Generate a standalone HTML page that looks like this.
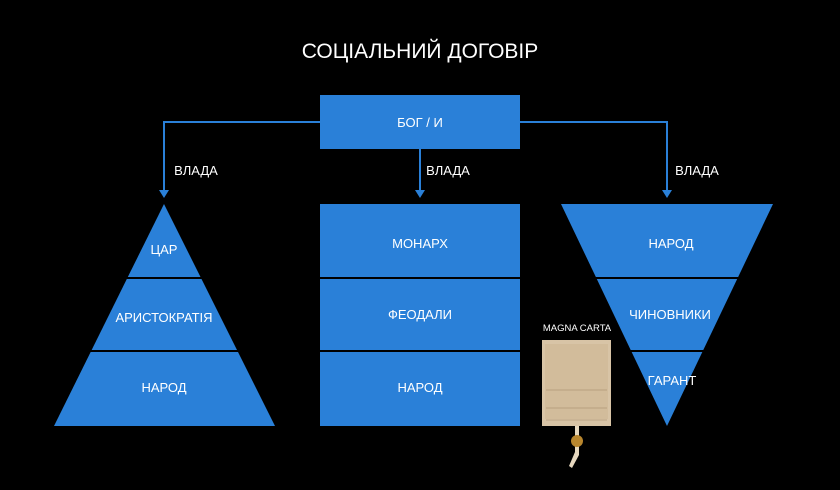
<!DOCTYPE html>
<html><head><meta charset="utf-8"><style>
html,body{margin:0;padding:0;background:#000;}
svg{display:block;font-family:"Liberation Sans",sans-serif;}
</style></head><body>
<svg width="840" height="490" viewBox="0 0 840 490" xmlns="http://www.w3.org/2000/svg">
<rect width="840" height="490" fill="#000"/>
<text x="420" y="58" fill="#fff" font-size="21" text-anchor="middle">СОЦІАЛЬНИЙ ДОГОВІР</text>
<g stroke="#2a80d8" stroke-width="2" fill="none">
<polyline points="320,122 164,122 164,192"/>
<line x1="420" y1="149" x2="420" y2="192"/>
<polyline points="520,122 667,122 667,192"/>
</g>
<g fill="#2a80d8">
<polygon points="159,190 169,190 164,198"/>
<polygon points="415,190 425,190 420,198"/>
<polygon points="662,190 672,190 667,198"/>
<rect x="320" y="95" width="200" height="54"/>
<polygon points="164,204 275,426 54,426"/>
<rect x="320" y="204" width="200" height="222"/>
<polygon points="561,204 773,204 667,426"/>
</g>
<g stroke="#000" stroke-width="2">
<line x1="40" y1="278" x2="290" y2="278"/>
<line x1="40" y1="351" x2="290" y2="351"/>
<line x1="310" y1="278" x2="530" y2="278"/>
<line x1="310" y1="351" x2="530" y2="351"/>
<line x1="550" y1="278" x2="790" y2="278"/>
<line x1="550" y1="351" x2="790" y2="351"/>
</g>
<g fill="#fff" font-size="13" text-anchor="middle">
<text x="420" y="127">БОГ /  И</text>
<text x="196" y="175">ВЛАДА</text>
<text x="448" y="175">ВЛАДА</text>
<text x="697" y="175">ВЛАДА</text>
<text x="164" y="254">ЦАР</text>
<text x="164" y="322">АРИСТОКРАТІЯ</text>
<text x="164" y="392">НАРОД</text>
<text x="420" y="248">МОНАРХ</text>
<text x="420" y="319">ФЕОДАЛИ</text>
<text x="420" y="392">НАРОД</text>
<text x="671" y="248">НАРОД</text>
<text x="670" y="319">ЧИНОВНИКИ</text>
<text x="672" y="385">ГАРАНТ</text>
<text x="577" y="331" font-size="9.5">MAGNA CARTA</text>
</g>
<rect x="542" y="340" width="69" height="86" fill="#d8c4a6"/>
<rect x="545" y="344" width="63" height="75" fill="#cfb795" opacity="0.6"/>
<g stroke="#a8906e" stroke-width="1" opacity="0.6">
<line x1="546" y1="390" x2="607" y2="390"/>
<line x1="546" y1="408" x2="607" y2="408"/>
<line x1="546" y1="420" x2="607" y2="420"/>
</g>
<path d="M575 426 L579 426 L579 455 L572 468 L569 466 L575 452 Z" fill="#e6d8bf"/>
<circle cx="577" cy="441" r="6" fill="#b8862e"/>
</svg>
</body></html>
